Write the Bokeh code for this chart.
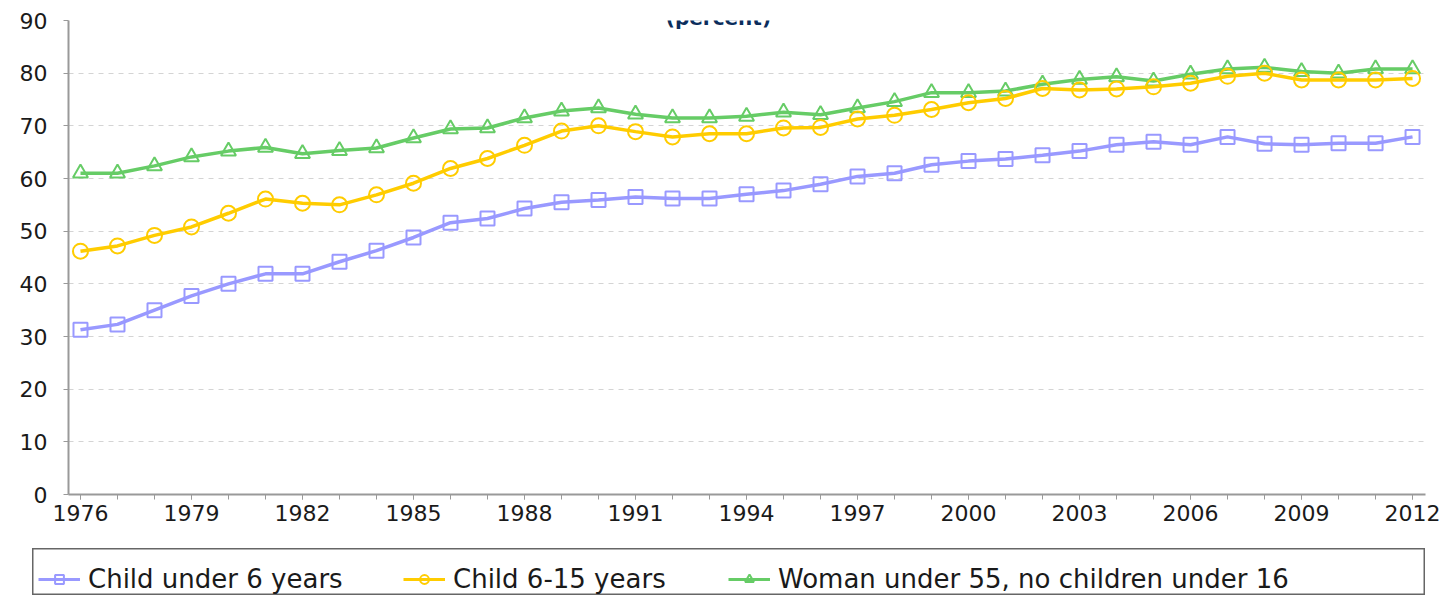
from bokeh.plotting import figure
from bokeh.models import (FixedTicker, Legend, LegendItem, Label, Range1d,
                          ColumnDataSource, Spacer)
from bokeh.layouts import column, row
from bokeh.embed import file_html
from bokeh.resources import INLINE

# ---------------- data ----------------
years = list(range(1976, 2013))
x_tick_labels = list(range(1976, 2013, 3))
y_ticks = [0, 10, 20, 30, 40, 50, 60, 70, 80, 90]

child_under_6 = [31.3, 32.3, 35.0, 37.7, 40.0, 41.9, 41.9, 44.2, 46.3, 48.8, 51.6, 52.4,
                 54.3, 55.5, 55.9, 56.5, 56.2, 56.2, 57.0, 57.7, 58.9, 60.4,
                 61.0, 62.6, 63.3, 63.7, 64.4, 65.2, 66.4, 67.0, 66.4, 67.9, 66.6, 66.4, 66.7, 66.7, 67.9]
child_6_15 = [46.2, 47.2, 49.2, 50.8, 53.4, 56.1, 55.3, 55.0, 56.9, 59.1,
              61.9, 63.8, 66.3, 69.0, 70.0, 68.9, 67.9, 68.5, 68.5, 69.6, 69.7, 71.3,
              72.0, 73.1, 74.4, 75.2, 77.1, 76.8, 77.0, 77.4, 78.1, 79.4, 80.0, 78.7, 78.7, 78.7, 79.0]
woman_no_children = [61.0, 61.0, 62.4, 64.1, 65.2, 65.9, 64.7, 65.3, 65.8, 67.7, 69.4, 69.6,
                     71.5, 72.8, 73.4, 72.2, 71.5, 71.5, 71.8, 72.6, 72.1, 73.4,
                     74.6, 76.3, 76.3, 76.6, 77.9, 78.8, 79.3, 78.5, 79.8, 80.8, 81.1, 80.3, 80.0, 80.8, 80.8]

series_names = ["Child under 6 years", "Child 6-15 years", "Woman under 55, no children under 16"]
title_text = "(percent)"

PURPLE = "#9999ff"
YELLOW = "#ffcc00"
GREEN = "#66cc66"
FONT = "DejaVu Sans"

src = ColumnDataSource(dict(year=years, c6=child_under_6, c615=child_6_15, w=woman_no_children))

# ---------------- main chart ----------------
p = figure(width=1445, height=548,
           x_range=Range1d(1975.676, 2012.35), y_range=Range1d(0, 90),
           output_backend="svg", toolbar_location=None,
           min_border_left=68, min_border_right=20, min_border_top=20, min_border_bottom=54)
p.outline_line_color = None
p.background_fill_color = "white"
p.border_fill_color = "white"

p.xgrid.visible = False
p.ygrid.grid_line_color = "#d4d4d4"
p.ygrid.grid_line_dash = "5 5"
p.ygrid.grid_line_width = 1

p.xaxis.ticker = FixedTicker(ticks=x_tick_labels, minor_ticks=years)
p.yaxis.ticker = FixedTicker(ticks=y_ticks)
for ax in (p.xaxis, p.yaxis):
    ax.axis_line_color = "#999999"
    ax.axis_line_width = 2
    ax.major_tick_line_color = "#999999"
    ax.major_tick_in = 0
    ax.major_tick_out = 5
    ax.major_label_text_font = FONT
    ax.major_label_text_font_size = "22px"
    ax.major_label_text_color = "#1a1a1a"
p.xaxis.minor_tick_line_color = "#999999"
p.xaxis.minor_tick_in = 0
p.xaxis.minor_tick_out = 5
p.yaxis.minor_tick_line_color = None
p.xaxis.major_label_standoff = 5
p.yaxis.major_label_standoff = 16

LW = 3.5
r_c6_l = p.line("year", "c6", source=src, line_color=PURPLE, line_width=LW)
r_c6_m = p.scatter("year", "c6", source=src, marker="square", size=14,
                   line_color=PURPLE, fill_color=None, line_width=2)
r_w_l = p.line("year", "w", source=src, line_color=GREEN, line_width=LW)
r_w_m = p.scatter("year", "w", source=src, marker="triangle", size=15,
                  line_color=GREEN, fill_color=None, line_width=2)
r_y_l = p.line("year", "c615", source=src, line_color=YELLOW, line_width=LW)
r_y_m = p.scatter("year", "c615", source=src, marker="circle", size=15,
                  line_color=YELLOW, fill_color=None, line_width=2)

p.add_layout(Label(x=1993.24, y=90.38, text=title_text, text_align="center",
                   text_baseline="alphabetic", text_font=FONT, text_font_size="20px",
                   text_font_style="bold", text_color="#0b2d5c"))

# ---------------- legend box ----------------
lf = figure(width=1393, height=47, output_backend="svg", toolbar_location=None,
            x_range=Range1d(0, 1), y_range=Range1d(0, 1), min_border=0)
lf.axis.visible = False
lf.grid.visible = False
lf.outline_line_color = "#666666"
lf.outline_line_width = 2
lf.background_fill_color = "white"
lf.border_fill_color = "white"

# legend sample renderers: same data, lying outside this box's ranges (invisible)
styles = [("c6", PURPLE, "square", 13), ("c615", YELLOW, "circle", 14), ("w", GREEN, "triangle", 14)]
positions = [6, 371, 696]
for name, (colname, col, mk, sz), xpos in zip(series_names, styles, positions):
    rl = lf.line("year", colname, source=src, line_color=col, line_width=3)
    rm = lf.scatter("year", colname, source=src, marker=mk, size=sz, line_color=col,
                    fill_color=None, line_width=2)
    leg = Legend(items=[LegendItem(label=name, renderers=[rl, rm])],
                 location=(xpos, 1), orientation="horizontal",
                 border_line_color=None, background_fill_alpha=0,
                 padding=0, margin=0, spacing=0,
                 label_text_font=FONT, label_text_font_size="26px",
                 label_text_color="#1a1a1a",
                 glyph_width=42, glyph_height=22, label_standoff=8)
    lf.add_layout(leg)

layout = column(p, row(Spacer(width=32), lf))

open("out.html", "w").write(file_html(layout, INLINE))
